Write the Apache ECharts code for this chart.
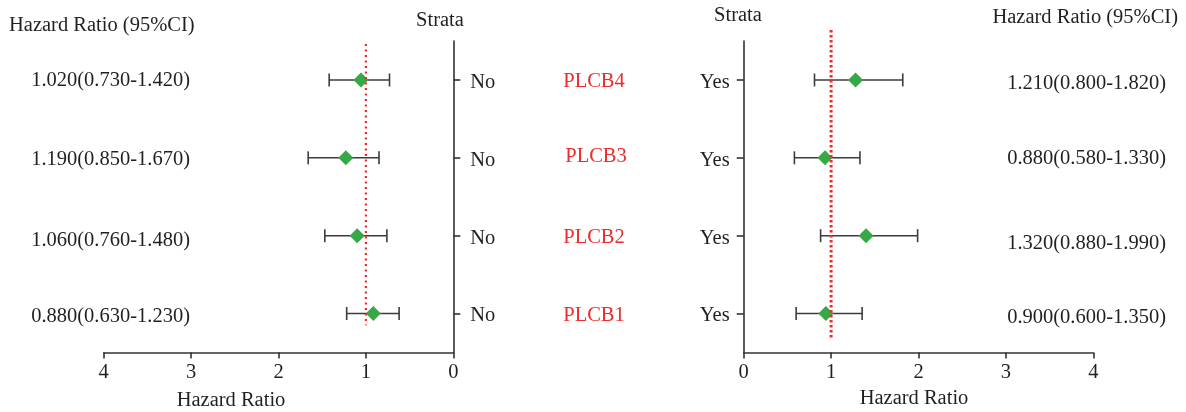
<!DOCTYPE html>
<html><head><meta charset="utf-8">
<script src="https://cdn.jsdelivr.net/npm/echarts@6/dist/echarts.min.js"></script>
<style>html,body{margin:0;padding:0;background:#fff}#c{width:1186px;height:412px}</style>
</head><body><div id="c"></div>
<script>
var genes = ['PLCB1','PLCB2','PLCB3','PLCB4'];
var noHR  = [0.915, 1.10, 1.23, 1.056];
var noLo  = [0.62, 0.76, 0.85, 0.73];
var noHi  = [1.22, 1.47, 1.66, 1.42];
var yesHR = [0.94, 1.40, 0.93, 1.28];
var yesLo = [0.60, 0.88, 0.58, 0.81];
var yesHi = [1.355, 1.99, 1.33, 1.82];
var noLabels  = ['0.880(0.630-1.230)','1.060(0.760-1.480)','1.190(0.850-1.670)','1.020(0.730-1.420)'];
var yesLabels = ['0.900(0.600-1.350)','1.320(0.880-1.990)','0.880(0.580-1.330)','1.210(0.800-1.820)'];
var xTicks = [0,1,2,3,4];

var FONT = '"Liberation Serif","DejaVu Serif",serif';
var FS = 20.5;
var TXT = '#231f20';
var AX = '#333';
var GREEN = '#36a946';
var RED = '#ee2a2a';

var chart = echarts.init(document.getElementById('c'));

function bars(lo, hi) {
  return genes.map(function(g, i){ return [lo[i], hi[i], i]; });
}
function renderBar(params, api) {
  var y = api.value(2);
  var p1 = api.coord([api.value(0), y]);
  var p2 = api.coord([api.value(1), y]);
  var h = 6.5;
  var st = {stroke: '#3c3c3c', lineWidth: 1.6};
  return {type:'group', children:[
    {type:'line', shape:{x1:p1[0],y1:p1[1],x2:p2[0],y2:p2[1]}, style:st},
    {type:'line', shape:{x1:p1[0],y1:p1[1]-h,x2:p1[0],y2:p1[1]+h}, style:st},
    {type:'line', shape:{x1:p2[0],y1:p2[1]-h,x2:p2[0],y2:p2[1]+h}, style:st}
  ]};
}
function xAxisCfg(grid, inverse) {
  return {
    type:'value', gridIndex:grid, min:0, max:4, interval:1, inverse:inverse,
    splitLine:{show:false},
    axisLine:{show:true, lineStyle:{color:AX, width:1.6}},
    axisTick:{show:true, length:6, lineStyle:{color:AX, width:1.6}},
    axisLabel:{fontFamily:FONT, fontSize:FS, color:TXT, margin:10,
      formatter:function(v){ return xTicks.indexOf(v) >= 0 ? String(v) : ''; }}
  };
}
function yCatCfg(grid, pos, label, margin) {
  return {
    type:'category', gridIndex:grid, data:genes, position:pos,
    axisLine:{show:true, onZero:false, lineStyle:{color:AX, width:1.6}},
    axisTick:{show:true, alignWithLabel:true, length:7, lineStyle:{color:AX, width:1.6}},
    axisLabel:{fontFamily:FONT, fontSize:FS, color:TXT, margin:margin,
      rich:{a:{fontFamily:FONT, fontSize:FS, color:TXT, padding:[5,0,0,0]}},
      formatter:function(){return '{a|' + label + '}';}}
  };
}
function yValCfg(grid) {
  return {type:'value', gridIndex:grid, min:0, max:4, show:false};
}

var option = {
  animation:false,
  grid:[
    {left:103.7, width:349.6, top:41, height:311.5},
    {left:743.7, width:349.6, top:41, height:311.5}
  ],
  xAxis:[xAxisCfg(0, true), xAxisCfg(1, false)],
  yAxis:[yCatCfg(0, 'right', 'No', 17), yCatCfg(1, 'left', 'Yes', 14), yValCfg(0), yValCfg(1)],
  series:[
    {type:'custom', xAxisIndex:0, yAxisIndex:0, renderItem:renderBar, data:bars(noLo, noHi), encode:{x:[0,1], y:2}, z:2},
    {type:'custom', xAxisIndex:1, yAxisIndex:1, renderItem:renderBar, data:bars(yesLo, yesHi), encode:{x:[0,1], y:2}, z:2},
    {type:'scatter', xAxisIndex:0, yAxisIndex:0, symbol:'diamond', symbolSize:[15,15], itemStyle:{color:GREEN, opacity:1}, z:3,
      data:genes.map(function(g,i){return [noHR[i], i];})},
    {type:'scatter', xAxisIndex:1, yAxisIndex:1, symbol:'diamond', symbolSize:[15,15], itemStyle:{color:GREEN, opacity:1}, z:3,
      data:genes.map(function(g,i){return [yesHR[i], i];})},
    {type:'line', xAxisIndex:0, yAxisIndex:2, clip:false, symbol:'none', z:4,
      lineStyle:{color:RED, width:2.2, type:[2,3.5]}, data:[[1,3.96],[1,0.35]]},
    {type:'line', xAxisIndex:1, yAxisIndex:3, clip:false, symbol:'none', z:4,
      lineStyle:{color:RED, width:3, type:[2.5,2.5]}, data:[[1,4.14],[1,0.19]]}
  ]
};
chart.setOption(option);

var g = [];
function txt(x, y, s, align, color) {
  g.push({type:'text', x:x, y:y, style:{text:s, fontFamily:FONT, fontSize:FS, fill:color||TXT, align:align||'left', verticalAlign:'middle'}});
}
txt(9, 26, 'Hazard Ratio (95%CI)');
txt(440, 21, 'Strata', 'center');
txt(738, 16, 'Strata', 'center');
txt(1178, 18, 'Hazard Ratio (95%CI)', 'right');
txt(231, 401, 'Hazard Ratio', 'center');
txt(914, 399, 'Hazard Ratio', 'center');
var leftOff = [3, 5, 2, 1];
var rightOff = [4, 8, 1, 4];
var geneOff = [2, 2, -1, 2];
var geneX = [594, 594, 596, 594];
genes.forEach(function(gn, i){
  var y = chart.convertToPixel({xAxisIndex:0, yAxisIndex:0}, [1, i])[1];
  txt(190, y + leftOff[i], noLabels[i], 'right');
  txt(1166, y + rightOff[i], yesLabels[i], 'right');
  txt(geneX[i], y + geneOff[i], gn, 'center', RED);
});
chart.setOption({graphic:g});
</script></body></html>
